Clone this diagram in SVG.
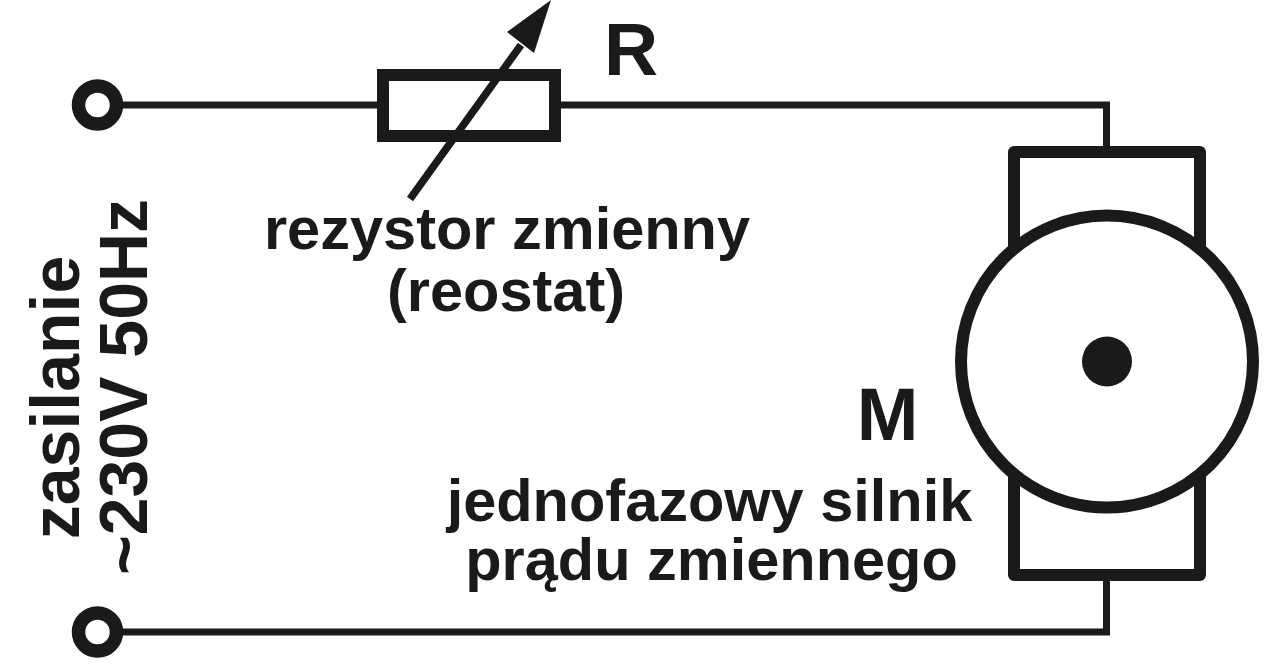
<svg xmlns="http://www.w3.org/2000/svg" width="1280" height="665" viewBox="0 0 1280 665">
<style>
.w{fill:none;stroke:#1a1a18;stroke-width:7}
.b{fill:none;stroke:#1a1a18;stroke-width:12;stroke-linejoin:round}
.t{font-family:"Liberation Sans",Arial,sans-serif;font-weight:700;fill:#1a1a18;text-anchor:middle}
.m{font-size:59.5px}
.s{font-size:68px}
</style>
<rect width="1280" height="665" fill="#fff"/>
<g id="connectors">
<path class="w" d="M120 105H380M558 105H1106.500V152M120 632H1106.500V576"/>
<path d="M410 199L521 45" fill="none" stroke="#1a1a18" stroke-width="7.500"/>
<path d="M551 0L534 53L507 32Z" fill="#1a1a18"/>
</g>
<g id="term-top"><circle fill="none" stroke="#1a1a18" stroke-width="13.500" cx="97.500" cy="105" r="19"/></g>
<g id="term-bottom"><circle fill="none" stroke="#1a1a18" stroke-width="13.500" cx="97.500" cy="632" r="19"/></g>
<g id="resistor"><rect fill="none" stroke="#1a1a18" stroke-width="12" x="383" y="75" width="172" height="61"/>
<text class="t" x="631" y="75" font-size="75">R</text></g>
<g id="motor">
<path class="b" d="M1014 250V152H1200V250M1014 470V575H1200V470"/>
<circle cx="1107" cy="361.500" r="146" fill="#fff" stroke="#1a1a18" stroke-width="12"/>
<circle cx="1107" cy="361.500" r="25" fill="#1a1a18"/>
<text class="t" x="887.500" y="440" font-size="74">M</text>
</g>
<g id="labels">
<text class="t m" x="507" y="249">rezystor zmienny</text>
<text class="t m" x="506" y="311">(reostat)</text>
<text class="t m" x="709.500" y="521">jednofazowy silnik</text>
<text class="t m" x="711.500" y="580">prądu zmiennego</text>
<text class="t s" transform="translate(79 397.500) rotate(-90)">zasilanie</text>
<text class="t s" transform="translate(147 387) rotate(-90)">~230V 50Hz</text>
</g>
</svg>
